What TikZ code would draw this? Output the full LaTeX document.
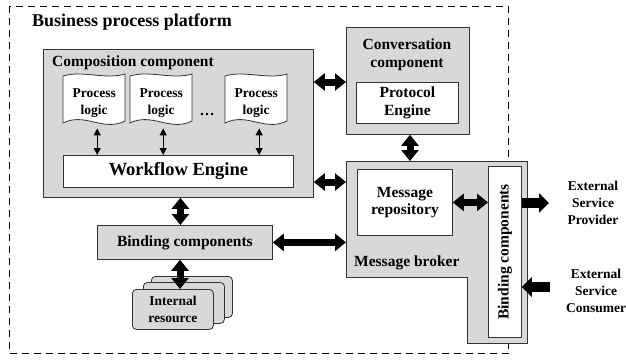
\documentclass[tikz,border=0pt]{standalone}
\usepackage{fontspec}
\setmainfont{Liberation Serif}
\usetikzlibrary{arrows.meta}
\definecolor{boxgray}{RGB}{216,216,216}
\newcommand\fs[2]{\bfseries\fontsize{#1}{#2}\selectfont}
\tikzset{
  gbox/.style={draw=black!80, line width=0.8pt, fill=boxgray, inner sep=0pt, anchor=north west},
  wbox/.style={draw=black!80, line width=0.8pt, fill=white, inner sep=0pt, anchor=north west},
  fat/.style={line width=7pt, arrows={Triangle[length=11pt,width=17pt]-Triangle[length=11pt,width=17pt]}},
  fatone/.style={line width=10pt, arrows={-Triangle[length=10pt,width=19pt]}},
  thinarr/.style={line width=1.2pt, arrows={Triangle[length=7pt,width=7pt]-Triangle[length=7pt,width=7pt]}},
  lbl/.style={font=\fs{15.5}{17.5}, align=center, inner sep=0pt},
  small/.style={font=\fs{13.5}{17}, align=center, inner sep=0pt},
}
\newcommand\procdoc[2]{%
  \draw[draw=black!80, line width=0.8pt, fill=white]
    (#1,76) .. controls (#1+20,70) and (#1+42,80) .. (#1+62,74)
    -- (#1+62,121) .. controls (#1+40,132) and (#1+22,112) .. (#1,123) -- cycle;
  \node[small, anchor=north west, minimum width=62pt, minimum height=51pt] (#2) at (#1,77) {Process\\logic};
}
\begin{document}
\begin{tikzpicture}[x=1pt,y=-1pt]
\useasboundingbox (0,0) rectangle (626,360);
\fill[white] (0,0) rectangle (626,360);

% platform
\node[draw, line width=1.2pt, dash pattern=on 7pt off 5pt, anchor=north west, minimum width=499pt, minimum height=347pt, inner sep=0pt] (platform) at (9,6) {};
\node[font=\fs{18}{20}, anchor=west, inner sep=0pt] (ptitle) at (32,22) {Business process platform};

% composition component
\node[gbox, minimum width=270pt, minimum height=148pt] (comp) at (43,49) {};
\node[lbl, anchor=west] (comptitle) at (52,63) {Composition component};
\procdoc{63}{pl1}
\procdoc{130}{pl2}
\procdoc{225}{pl3}
\node[font=\fs{15}{17}, inner sep=0pt] (dots) at (207,114) {\dots};
\node[wbox, minimum width=230pt, minimum height=32pt, font=\fs{18.5}{20}] (wf) at (63,155) {Workflow Engine};
\draw[thinarr] ([xshift=3pt]pl1.south) -- ([xshift=3pt]pl1.south |- wf.north);
\draw[thinarr] ([xshift=2pt]pl2.south) -- ([xshift=2pt]pl2.south |- wf.north);
\draw[thinarr] ([xshift=3pt]pl3.south) -- ([xshift=3pt]pl3.south |- wf.north);

% conversation component
\node[gbox, minimum width=123pt, minimum height=107pt] (conv) at (346,27) {};
\node[lbl] (convtitle) at (407,55) {Conversation\\component};
\node[wbox, minimum width=102pt, minimum height=41pt] (prot) at (356,82) {};
\node[lbl] (prottext) at (prot.center) {Protocol\\Engine};

% message broker
\draw[draw=black!80, line width=0.8pt, fill=boxgray]
  (346,161) -- (527,161) -- (527,343) -- (467,343) -- (467,277) -- (346,277) -- cycle;
\node[anchor=north west, minimum width=181pt, minimum height=116pt, inner sep=0pt] (broker) at (346,161) {};
\node[wbox, minimum width=95pt, minimum height=66pt] (repo) at (357,169) {};
\node[lbl] (repotext) at (repo.center) {Message\\repository};
\node[lbl, anchor=west] (brokertitle) at (354,263) {Message broker};
\node[wbox, minimum width=33pt, minimum height=171pt] (bindv) at (488,166) {};
\node[lbl, rotate=90] (bindvtext) at (bindv.center) {Binding components};

% binding components (internal)
\node[gbox, minimum width=175pt, minimum height=34pt] (bindh) at (97,225) {};
\node[lbl] (bindhtext) at (bindh.center) {Binding components};

% internal resources
\node[gbox, rounded corners=4pt, minimum width=81pt, minimum height=41pt] (ir3) at (151,276) {};
\node[gbox, rounded corners=4pt, minimum width=81pt, minimum height=41pt] (ir2) at (143,282) {};
\node[gbox, rounded corners=4pt, minimum width=81pt, minimum height=40pt] (ir1) at (132,289) {};
\node[small] (irtext) at (ir1.center) {Internal\\resource};

% external
\node[small] (prov) at (593,203) {External\\Service\\Provider};
\node[small] (cons) at (596,291) {External\\Service\\Consumer};
\coordinate (provend) at (549,203);
\coordinate (consstart) at (550,287);

% thick connectors
\draw[fat] ([xshift=2pt]comp.south) -- ([xshift=2pt]comp.south |- bindh.north);
\draw[fat] (bindh.south -| 180,0) -- (ir1.north -| 180,0);
\draw[fat] (comp.east |- 0,82) -- (conv.west |- 0,82);
\draw[fat] (comp.east |- 0,182) -- (broker.west |- 0,182);
\draw[fat] (conv.south -| 410,0) -- (broker.north -| 410,0);
\draw[fat] (bindh.east) -- (bindh.east -| broker.west);
\draw[fat] (repo.east) -- (repo.east -| bindv.west);
\draw[fatone] (bindv.east |- provend) -- (provend);
\draw[fatone] (consstart) -- (bindv.east |- consstart);
\end{tikzpicture}
\end{document}
